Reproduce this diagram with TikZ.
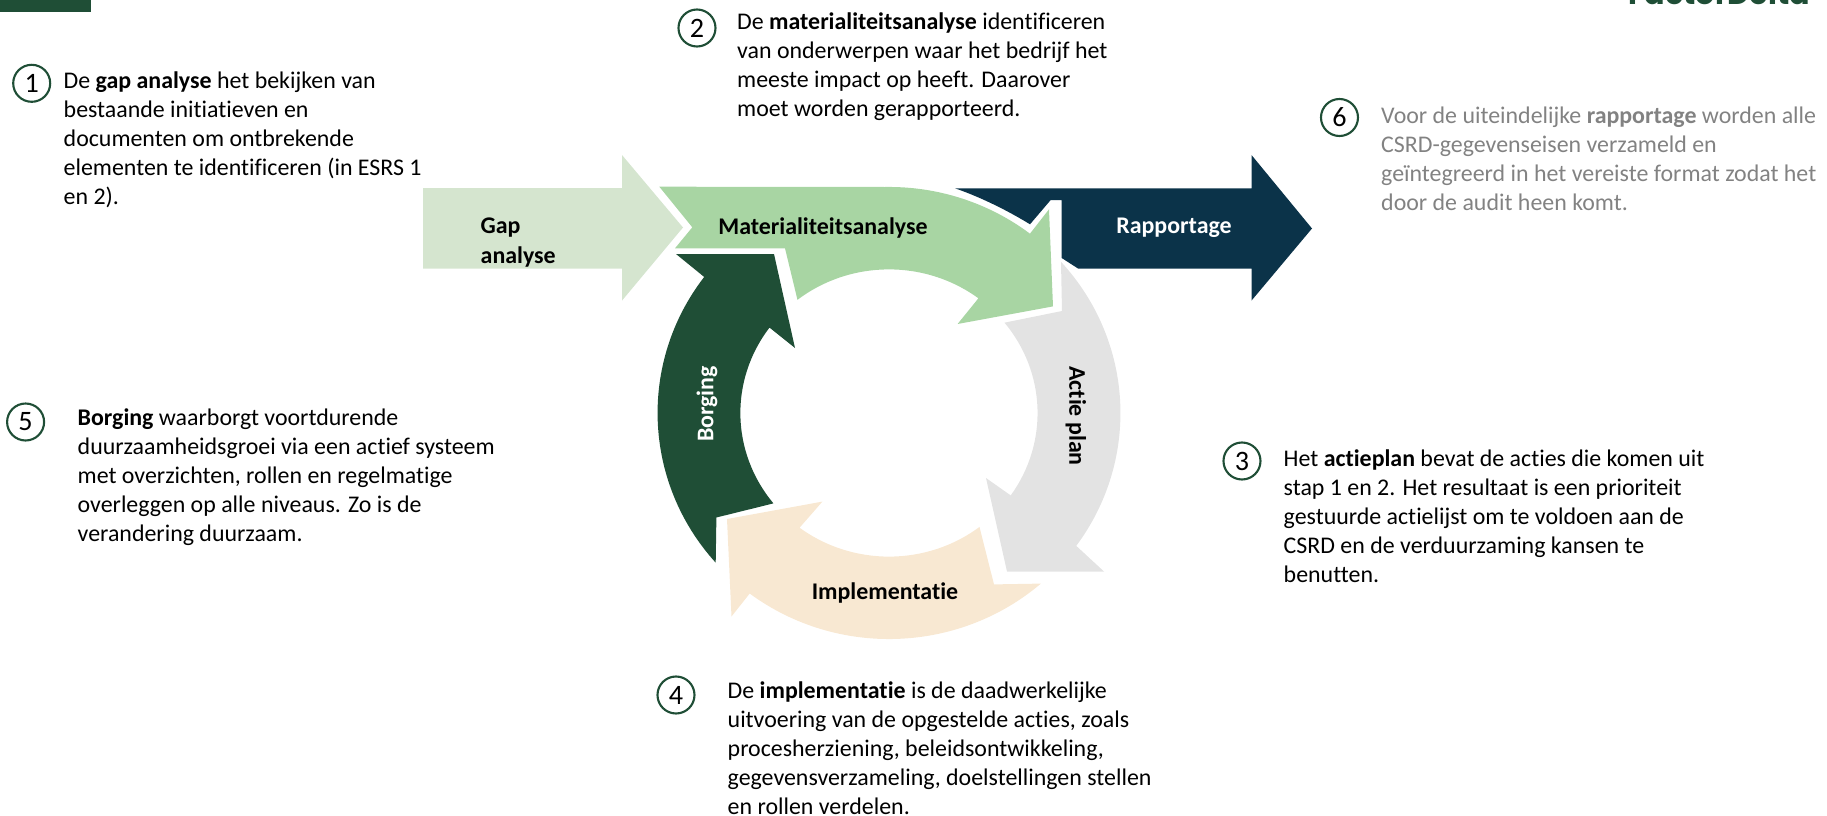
\documentclass[tikz,border=0pt]{standalone}
\usepackage{fontspec}
\usepackage{xcolor}
\setmainfont[Ligatures=CommonOff]{Carlito}
\newfontfamily\logofont{Poppins}
\usepackage{tikz}
\definecolor{gapgreen}{HTML}{D5E5CF}
\definecolor{matgreen}{HTML}{A8D5A3}
\definecolor{rapblue}{HTML}{0B3349}
\definecolor{actgrey}{HTML}{E3E3E3}
\definecolor{impsand}{HTML}{F8E8D2}
\definecolor{borgreen}{HTML}{1F4E36}
\definecolor{fadetext}{HTML}{828282}
\tikzset{
  numcirc/.style={circle,draw=borgreen,line width=0.6pt,minimum size=0.37cm,inner sep=0pt,font=\fontsize{8}{9}\selectfont},
  desc/.style={anchor=north west,align=left,inner sep=0pt,font=\fontsize{6.8}{8.25}\selectfont},
  blocklabel/.style={align=left,inner sep=0pt,font=\fontsize{6.8}{8.4}\selectfont\bfseries}
}
\begin{document}
\begin{tikzpicture}[x=0.1mm,y=-0.1mm]
\useasboundingbox (0,0) rectangle (1827,816);
\fill[borgreen] (0,0) rectangle (91,12);
\node[anchor=base east,inner sep=0pt,text=borgreen,font=\fontsize{8.6}{9}\selectfont\logofont\bfseries] (logo) at (1811,4) {FactorDelta};
\fill[gapgreen] (423,188) -- (622,188) -- (622,155) -- (683,227.5) -- (622,300.6) -- (622,268.5) -- (423,268.5) -- cycle;
\fill[rapblue] (955,188.3) -- (1251.5,188.3) -- (1251.5,155) -- (1312,228.5) -- (1251.5,300.6) -- (1251.5,268.5) -- (1078,268.5) -- (1061.7,258) -- (1061.7,200) -- (1050.7,200) -- (1030,224.3) .. controls (1010,212) and (983,198) .. cycle;
\fill[matgreen] (659.3,186.7) -- (885,187) arc[start angle=91,end angle=52.5,x radius=2.315cm,y radius=2.26cm] -- (1049,209.3) -- (1053,306.4) -- (957.6,324) -- (978.4,298.3) arc[start angle=53,end angle=128,x radius=1.486cm,y radius=1.436cm] -- (785,248.3) -- (675,248.3) -- (692.3,227.3) -- cycle;
\fill[actgrey] (1061,261.8) arc[start angle=42,end angle=-36,x radius=2.315cm,y radius=2.26cm] -- (1104,571.5) -- (1007,571.5) -- (986,478) -- (1010.7,495.4) arc[start angle=-35,end angle=39,x radius=1.486cm,y radius=1.436cm] -- (1062,311) -- cycle;
\fill[impsand] (1040.9,583.6) arc[start angle=-49,end angle=-127,x radius=2.315cm,y radius=2.26cm] -- (731.5,616.5) -- (727,519) -- (822.4,501.6) -- (799.6,527.7) arc[start angle=-127,end angle=-52.5,x radius=1.486cm,y radius=1.436cm] -- (994,584.4) -- cycle;
\fill[borgreen] (715.7,562.7) arc[start angle=221.5,end angle=143,x radius=2.315cm,y radius=2.26cm] -- (676,254) -- (774,254) -- (795,348) -- (769.5,327.6) arc[start angle=143.5,end angle=219,x radius=1.486cm,y radius=1.436cm] -- (716.4,517.5) -- cycle;
\node[blocklabel,anchor=west] (gaplabel) at (480,242.5) {Gap\\analyse};
\node[blocklabel] (matlabel) at (823,227.5) {Materialiteitsanalyse};
\node[blocklabel,text=white] (raplabel) at (1174,227.5) {Rapportage};
\node[blocklabel,rotate=-90] (actlabel) at (1076,416) {Actie plan};
\node[blocklabel] (implabel) at (885,593) {Implementatie};
\node[blocklabel,rotate=90,text=white] (borlabel) at (707,404) {Borging};
\node[numcirc] (n1) at (31.7,83.3) {1};
\node[desc] (t1) at (63,71.5) {De \textbf{gap analyse} het bekijken van\\bestaande initiatieven en\\documenten om ontbrekende\\elementen te identificeren (in ESRS 1\\en 2).};
\node[numcirc] (n2) at (697,28) {2};
\node[desc] (t2) at (736.5,12.5) {De \textbf{materialiteitsanalyse} identificeren\\van onderwerpen waar het bedrijf het\\meeste impact op heeft. Daarover\\moet worden gerapporteerd.};
\node[numcirc] (n3) at (1242,461) {3};
\node[desc] (t3) at (1283,449) {Het \textbf{actieplan} bevat de acties die komen uit\\stap 1 en 2. Het resultaat is een prioriteit\\gestuurde actielijst om te voldoen aan de\\CSRD en de verduurzaming kansen te\\benutten.};
\node[numcirc] (n4) at (676,695) {4};
\node[desc] (t4) at (727,681.5) {De \textbf{implementatie} is de daadwerkelijke\\uitvoering van de opgestelde acties, zoals\\procesherziening, beleidsontwikkeling,\\gegevensverzameling, doelstellingen stellen\\en rollen verdelen.};
\node[numcirc] (n5) at (25.6,422) {5};
\node[desc] (t5) at (77,408) {\textbf{Borging} waarborgt voortdurende\\duurzaamheidsgroei via een actief systeem\\met overzichten, rollen en regelmatige\\overleggen op alle niveaus. Zo is de\\verandering duurzaam.};
\node[numcirc] (n6) at (1339.5,117.5) {6};
\node[desc,text=fadetext] (t6) at (1380.5,106) {Voor de uiteindelijke \textbf{rapportage} worden alle\\CSRD-gegevenseisen verzameld en\\geïntegreerd in het vereiste format zodat het\\door de audit heen komt.};
\end{tikzpicture}
\end{document}
